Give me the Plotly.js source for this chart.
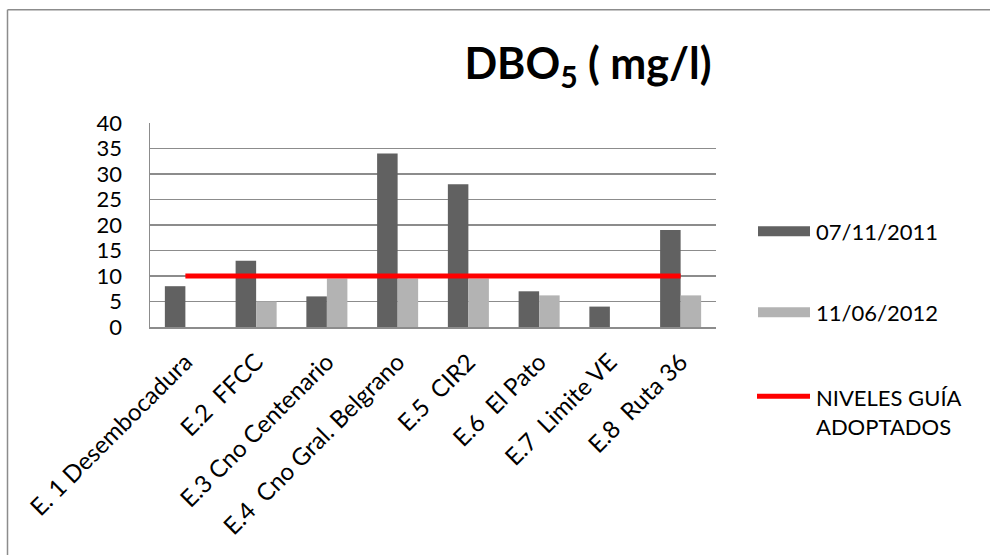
<!DOCTYPE html>
<html>
<head>
<meta charset="utf-8">
<script src="https://cdn.plot.ly/plotly-3.0.1.min.js"></script>
<style>
  html, body { margin: 0; padding: 0; background: #ffffff; }
  #chart { width: 990px; height: 555px; }
</style>
</head>
<body>
<div id="chart"></div>
<script>
// Sampling stations along the watercourse
const stations = [
  "E. 1 Desembocadura",
  "E.2\u00a0 FFCC",
  "E.3 Cno Centenario",
  "E.4\u00a0 Cno Gral. Belgrano",
  "E.5\u00a0 CIR2",
  "E.6\u00a0 El Pato",
  "E.7\u00a0 Limite VE",
  "E.8\u00a0 Ruta 36"
];

// DBO5 (mg/l) per campaign; null = no measurement
const campaign1Name = "07/11/2011";
const campaign1 = [8, 13, 6, 34, 28, 7, 4, 19];

const campaign2Name = "11/06/2012";
const campaign2 = [null, 5, 9.5, 9.5, 9.5, 6.2, null, 6.2];

// Adopted guide level
const guideName = "NIVELES GUÍA<br>ADOPTADOS";
const guideLevel = [10, 10, 10, 10, 10, 10, 10, 10];

const yTicks = [0, 5, 10, 15, 20, 25, 30, 35, 40];

const darkGray = "#616161";
const lightGray = "#b3b3b3";
const guideRed = "#ff0000";
const fontFamily = "Lato, 'Open Sans', sans-serif";

const traces = [
  { type: "bar", name: campaign1Name, x: stations, y: campaign1,
    marker: { color: darkGray }, showlegend: false },
  { type: "bar", name: campaign2Name, x: stations, y: campaign2,
    marker: { color: lightGray }, showlegend: false },
  { type: "scatter", mode: "lines", name: guideName, x: stations, y: guideLevel,
    line: { color: guideRed, width: 5 }, showlegend: false }
];

// Hand-built legend on the right side (paper coordinates)
const plotL = 150, plotR = 716, plotT = 122.7, plotB = 326.7;
const pw = plotR - plotL, ph = plotB - plotT;
const px = v => (v - plotL) / pw;
const py = v => (plotB - v) / ph;

const legendItems = [
  { label: campaign1Name, kind: "box", color: darkGray, y: 231 },
  { label: campaign2Name, kind: "box", color: lightGray, y: 312 },
  { label: guideName, kind: "line", color: guideRed, y: 396 }
];

const shapes = [
  // chart frame (left and top edges)
  { type: "line", xref: "paper", yref: "paper", x0: px(7.5), x1: px(7.5), y0: py(9.5), y1: py(560),
    line: { color: "#8c8c8c", width: 1.5 } },
  { type: "line", xref: "paper", yref: "paper", x0: px(7.5), x1: px(995), y0: py(9.5), y1: py(9.5),
    line: { color: "#8c8c8c", width: 1.5 } }
];
const annotations = [];

legendItems.forEach(it => {
  if (it.kind === "box") {
    shapes.push({ type: "rect", xref: "paper", yref: "paper",
      x0: px(758), x1: px(810), y0: py(it.y - 5), y1: py(it.y + 5),
      fillcolor: it.color, line: { width: 0 } });
  } else {
    shapes.push({ type: "line", xref: "paper", yref: "paper",
      x0: px(757), x1: px(810), y0: py(it.y), y1: py(it.y),
      line: { color: it.color, width: 5 } });
  }
  annotations.push({ xref: "paper", yref: "paper", x: px(814), y: py(it.y),
    xanchor: "left", yanchor: it.kind === "line" ? "top" : "middle",
    yshift: it.kind === "line" ? 14 : 0,
    align: "left", showarrow: false, text: it.label,
    font: { family: fontFamily, size: 22, color: "#000" } });
});

const layout = {
  width: 990, height: 555,
  margin: { l: plotL, r: 990 - plotR, t: plotT, b: 555 - plotB, pad: 0 },
  paper_bgcolor: "#ffffff", plot_bgcolor: "#ffffff",
  title: { text: "<b>DBO<sub>5</sub> ( mg/l)</b>", x: 588 / 990, xanchor: "center",
    xref: "container", y: 1 - 64 / 555, yanchor: "middle", yref: "container",
    font: { family: fontFamily, size: 43, color: "#000" } },
  barmode: "group", bargap: 0.42, bargroupgap: 0,
  xaxis: { type: "category", tickangle: -45, showgrid: false, showline: true,
    linecolor: "#8c8c8c", linewidth: 1.5, ticks: "", ticklabelstandoff: 10,
    tickfont: { family: fontFamily, size: 24, color: "#000" } },
  yaxis: { range: [0, 40], tickvals: yTicks, ticktext: yTicks.map(String),
    showgrid: true, gridcolor: "#8c8c8c", gridwidth: 1.5, showline: true,
    linecolor: "#8c8c8c", linewidth: 1.5, zeroline: false, ticks: "",
    ticklabelstandoff: 22,
    tickfont: { family: fontFamily, size: 22, color: "#000" } },
  shapes: shapes,
  annotations: annotations,
  showlegend: false
};

Plotly.newPlot("chart", traces, layout, { displayModeBar: false, staticPlot: true });
</script>
</body>
</html>
